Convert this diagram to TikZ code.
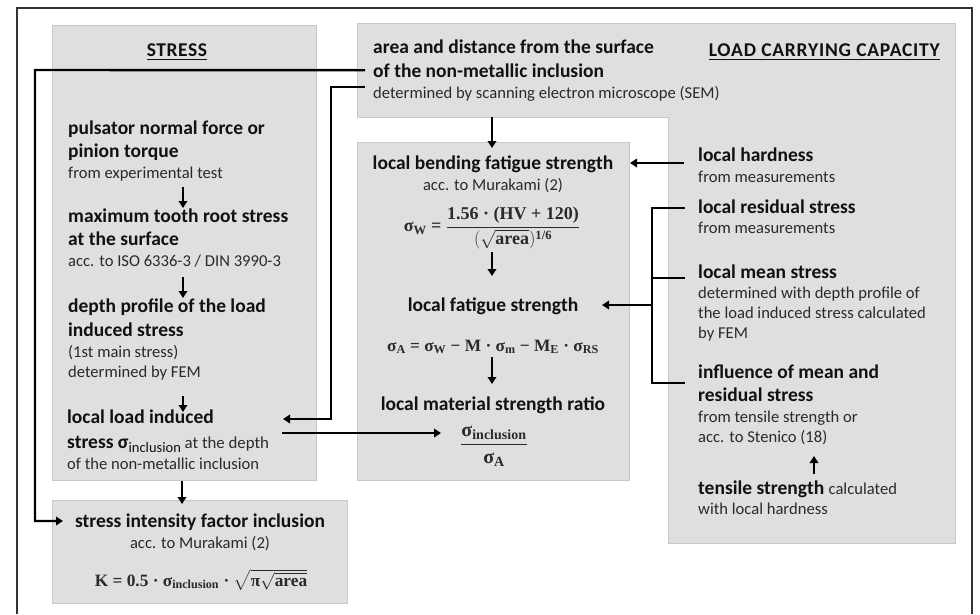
\RequirePackage{fix-cm}
\documentclass[tikz,border=0pt]{standalone}
\usepackage{amsmath}
\usepackage{fontspec}
\setmainfont{Carlito}
\newfontfamily\mfont{Liberation Serif}
\usetikzlibrary{arrows.meta}
\newcommand\mf[1]{\text{\mfont\bfseries #1}}
\definecolor{boxgray}{HTML}{DFDFDF}
\definecolor{boxedge}{HTML}{C8C8C8}
\definecolor{txt}{HTML}{111111}
\definecolor{txtb}{HTML}{2A2A2A}
\definecolor{framec}{HTML}{333333}
\tikzset{
  region/.style={fill=boxgray, draw=boxedge, line width=0.8pt, inner sep=0pt, anchor=north west},
  regionf/.style={fill=boxgray, draw=none, inner sep=0pt, anchor=north west},
  hd/.style={font=\fontsize{19.5}{22}\selectfont\bfseries, text=txt, inner sep=0pt, anchor=base west},
  hdc/.style={hd, anchor=base},
  sm/.style={font=\fontsize{16.6}{19}\selectfont, text=txtb, inner sep=0pt, anchor=base west},
  smc/.style={sm, anchor=base},
  fm/.style={font=\fontsize{17.3}{19}\selectfont, text=txtb, inner sep=0pt},
  conn/.style={line width=2.4pt, draw=black},
  arr/.style={conn, -{Triangle[length=7pt,width=8.5pt]}},
}
\begin{document}
\begin{tikzpicture}[x=1pt,y=-1pt]
\useasboundingbox (0,0) rectangle (980,614);
% outer frame
\draw[framec, line width=2pt] (17,614) -- (17,8) -- (972,8) -- (972,614);

% regions
\node[region, minimum width=264pt, minimum height=455pt] (stressbox) at (52,25) {};
\node[region, minimum width=295pt, minimum height=103pt] (sibox) at (52,500) {};
\node[region, minimum width=272pt, minimum height=338pt] (cbox) at (357,142) {};
\node[regionf, minimum width=312pt, minimum height=94pt] (area) at (357,23) {};
\node[regionf, minimum width=287pt, minimum height=520pt] (lcc) at (668,23) {};
\draw[boxedge, line width=0.8pt] (area.south west) -- (area.north west) -- (lcc.north east)
  -- (lcc.south east) -- (lcc.south west) -- (lcc.west |- area.south) -- cycle;

% STRESS column
\node[hdc] (stresst) at (177,56) {\addfontfeatures{LetterSpace=3}\underline{STRESS}};
\node[hd] (p1) at (68,134) {pulsator normal force or};
\node[hd] (p2) at (68,157) {pinion torque};
\node[sm] (p3) at (68,178) {from experimental test};
\node[hd] (m1) at (68,222) {maximum tooth root stress};
\node[hd] (m2) at (68,245) {at the surface};
\node[sm] (m3) at (68,266) {acc. to ISO 6336-3 / DIN 3990-3};
\node[hd] (d1) at (68,312) {depth profile of the load};
\node[hd] (d2) at (68,336) {induced stress};
\node[sm] (d3) at (68,357) {(1st main stress)};
\node[sm] (d4) at (68,377) {determined by FEM};
\node[hd] (l1) at (67,423) {local load induced};
\node[hd] (l2) at (67,448) {stress σ\raisebox{-4pt}{\fontsize{14.5}{15}\selectfont\mdseries inclusion}\fontsize{16.8}{19}\selectfont\mdseries\color{txtb}\ at the depth};
\node[sm] (l3) at (67,469) {of the non-metallic inclusion};
\draw[arr] (183,187) -- (183,208);
\draw[arr] (183,277) -- (183,298);
\draw[arr] (183,396) -- (183,412);
\draw[arr] (stressbox.south -| 182,0) -- (182,504);

% stress intensity box
\node[hdc] (si1) at (200,527) {stress intensity factor inclusion};
\node[smc] (si2) at (200,548) {acc. to Murakami (2)};
\node[fm] (si3) at (201,580) {$\mf{K = 0.5 · σ}_{\mf{inclusion}}\mf{ · }\sqrt{\mf{π}\sqrt{\mf{area}}}$};

% area box
\node[hd] (a1) at (373,53) {area and distance from the surface};
\node[hd] (a2) at (373,77) {of the non-metallic inclusion};
\node[sm] (a3) at (373,98) {determined by scanning electron microscope (SEM)};
\node[hd, anchor=base east] (lcct) at (940,56) {\addfontfeatures{LetterSpace=4}\underline{LOAD CARRYING CAPACITY}};

% central box
\node[hdc] (b1) at (493,169) {local bending fatigue strength};
\node[smc] (b2) at (493,190) {acc. to Murakami (2)};
\node[fm, font=\fontsize{18}{20}\selectfont] (b3) at (492,228) {$\mf{σ}_{\mf{W}} \mf{ = } \dfrac{\mf{1.56 · (HV + 120)}}{(\sqrt{\mf{area}})^{\mf{1/6}}}$};
\node[hdc] (f1) at (493,311) {local fatigue strength};
\node[fm] (f2) at (493,347) {$\mf{σ}_{\mf{A}}\mf{ = σ}_{\mf{W}}\mf{ − M · σ}_{\mf{m}}\mf{ − M}_{\mf{E}}\mf{ · σ}_{\mf{RS}}$};
\node[hdc] (r1) at (493,410) {local material strength ratio};
\node[fm, font=\fontsize{20}{22}\selectfont] (r2) at (494,446) {$\dfrac{\mf{σ}_{\mf{inclusion}}}{\mf{σ}_{\mf{A}}}$};
\draw[arr] (492,252) -- (492,276);
\draw[arr] (492,357) -- (492,384);

% right column
\node[hd] (h1) at (698,161) {local hardness};
\node[sm] (h2) at (698,182) {from measurements};
\node[hd] (rs1) at (698,213) {local residual stress};
\node[sm] (rs2) at (698,233) {from measurements};
\node[hd] (ms1) at (698,278) {local mean stress};
\node[sm] (ms2) at (698,298) {determined with depth profile of};
\node[sm] (ms3) at (698,318) {the load induced stress calculated};
\node[sm] (ms4) at (698,338) {by FEM};
\node[hd] (in1) at (698,378) {influence of mean and};
\node[hd] (in2) at (698,401) {residual stress};
\node[sm] (in3) at (698,422) {from tensile strength or};
\node[sm] (in4) at (698,442) {acc. to Stenico (18)};
\node[hd] (ts1) at (698,494) {tensile strength \fontsize{16.6}{19}\selectfont\mdseries\color{txtb}calculated};
\node[sm] (ts2) at (698,514) {with local hardness};
\draw[arr] (814,474) -- (814,456);

% connectors
\draw[arr] ([xshift=8pt]area.west) -- (35,70) -- (35,521) -- (63,521);
\draw[arr] (365,87) -- (331,87) -- (331,419) -- (283,419);
\draw[arr] (282,433) -- (441,433);
\draw[arr] (area.south -| 492,0) -- (492,148);
\draw[arr] (684,163) -- (630,163);
\draw[conn] (685,208) -- (652,208) -- (652,383) -- (685,383);
\draw[conn] (685,278) -- (652,278);
\draw[arr] (652,305) -- (602,305);
\end{tikzpicture}
\end{document}
